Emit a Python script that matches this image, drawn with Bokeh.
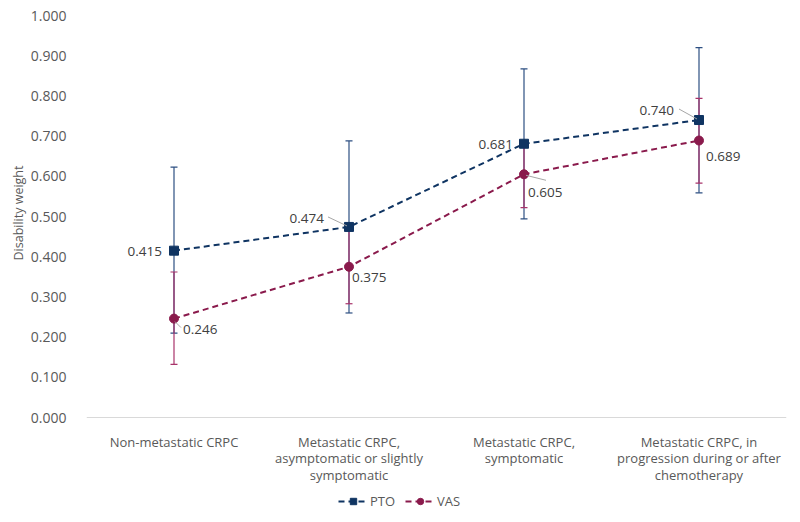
from bokeh.plotting import figure
from bokeh.models import (ColumnDataSource, FixedTicker, NumeralTickFormatter, Whisker,
                          Legend, LegendItem, TeeHead, Range1d, Title)
from bokeh.core.properties import value
from bokeh.embed import file_html
from bokeh.resources import INLINE

categories = ["Non-metastatic CRPC",
              "Metastatic CRPC,\nasymptomatic or slightly\nsymptomatic",
              "Metastatic CRPC,\nsymptomatic",
              "Metastatic CRPC, in\nprogression during or after\nchemotherapy"]
pto = [0.415, 0.474, 0.681, 0.740]
pto_lower = [0.210, 0.260, 0.494, 0.559]
pto_upper = [0.623, 0.688, 0.867, 0.920]
vas = [0.246, 0.375, 0.605, 0.689]
vas_lower = [0.132, 0.283, 0.522, 0.583]
vas_upper = [0.362, 0.468, 0.675, 0.794]
y_ticks = [0.0, 0.1, 0.2, 0.3, 0.4, 0.5, 0.6, 0.7, 0.8, 0.9, 1.0]

xs = list(range(1, len(categories) + 1))

PTO_C = "#0f3462"
VAS_C = "#8a1a4c"
FONT = "Open Sans"

# frame spans 15..514 px vertically; y=0 sits at 417 px (402 px per unit)
p = figure(width=790, height=514, output_backend="svg", toolbar_location=None,
           x_range=Range1d(0.5, 4.5), y_range=Range1d(-97 / 402, 1.0),
           min_border_left=86, min_border_right=4, min_border_top=15, min_border_bottom=0)
p.outline_line_color = None
p.xgrid.grid_line_color = None
p.ygrid.grid_line_color = None

# axes
p.xaxis.fixed_location = 0
p.xaxis.ticker = FixedTicker(ticks=xs)
p.xaxis.major_label_overrides = {x: c for x, c in zip(xs, categories)}
p.xaxis.axis_line_color = "#d9d9d9"
p.xaxis.major_tick_line_color = None
p.xaxis.minor_tick_line_color = None
p.xaxis.major_label_text_font = FONT
p.xaxis.major_label_text_font_size = "13px"
p.xaxis.major_label_text_line_height = 0.92
p.xaxis.major_label_text_color = "#595959"
p.xaxis.major_label_standoff = 9

p.yaxis.ticker = FixedTicker(ticks=y_ticks)
p.yaxis.formatter = NumeralTickFormatter(format="0.000")
p.yaxis.axis_line_color = None
p.yaxis.major_tick_line_color = None
p.yaxis.minor_tick_line_color = None
p.yaxis.major_label_text_font = FONT
p.yaxis.major_label_text_font_size = "14px"
p.yaxis.major_label_text_color = "#595959"
p.yaxis.major_label_standoff = 14

ylab = Title(text="Disability weight", align="left", offset=254, standoff=2,
             text_font=FONT, text_font_size="12.5px", text_font_style="normal",
             text_color="#595959")
p.add_layout(ylab, "left")

src_p = ColumnDataSource(dict(x=xs, y=pto, lo=pto_lower, hi=pto_upper))
src_v = ColumnDataSource(dict(x=xs, y=vas, lo=vas_lower, hi=vas_upper))

# error bars
for src, col in [(src_p, "#2d4f82"), (src_v, "#a8336a")]:
    w = Whisker(source=src, base="x", lower="lo", upper="hi",
                line_color=col, line_width=1.2,
                upper_head=TeeHead(size=7, line_color=col, line_width=1.2),
                lower_head=TeeHead(size=7, line_color=col, line_width=1.2))
    p.add_layout(w)

# lines and markers
lp = p.line("x", "y", source=src_p, line_color=PTO_C, line_width=2, line_dash="6 4")
lv = p.line("x", "y", source=src_v, line_color=VAS_C, line_width=2, line_dash="6 4")
mp = p.scatter("x", "y", source=src_p, marker="square", size=9, fill_color=PTO_C, line_color=PTO_C)
mv = p.scatter("x", "y", source=src_v, marker="circle", size=9, fill_color=VAS_C, line_color=VAS_C)

# leader lines (pixel offsets converted to data units; +y offset = screen down)
px_x = 1.0 / 175.0
px_y = 1.0 / 402.0
lead_x0, lead_y0, lead_x1, lead_y1 = [], [], [], []
leaders = [(0, "v", 1, 3, 7, 9), (1, "p", -2, -1, -21, -10),
           (2, "v", 2, 1, 22, 6), (3, "p", -2, -1, -20, -11)]
for i, s, ax0, ay0, ax1, ay1 in leaders:
    yv = pto[i] if s == "p" else vas[i]
    lead_x0.append(xs[i] + ax0 * px_x)
    lead_y0.append(yv - ay0 * px_y)
    lead_x1.append(xs[i] + ax1 * px_x)
    lead_y1.append(yv - ay1 * px_y)
p.segment(lead_x0, lead_y0, lead_x1, lead_y1, line_color="#a6a6a6", line_width=1)

# data labels
lab_x = xs + xs
lab_y = pto + vas
lab_t = ["%.3f" % v for v in pto] + ["%.3f" % v for v in vas]
lab_align = ["right", "right", "right", "right", "left", "left", "left", "left"]
lab_xo = [-12, -25, -11, -25, 9, 3, 4, 7]
lab_yo = [1, -8, 1, -10, 11, 11, 18, 16]
src_l = ColumnDataSource(dict(x=lab_x, y=lab_y, t=lab_t, a=lab_align, xo=lab_xo, yo=lab_yo))
p.text("x", "y", text="t", source=src_l, text_align="a", text_baseline="middle",
       x_offset="xo", y_offset="yo", text_font=value(FONT), text_font_size="13.5px",
       text_color="#404040")

legend = Legend(items=[LegendItem(label="PTO", renderers=[lp, mp]),
                       LegendItem(label="VAS", renderers=[lv, mv])],
                orientation="horizontal", location=(252, 3),
                label_text_font=FONT, label_text_font_size="13px", label_text_color="#595959",
                glyph_width=30, glyph_height=16, label_height=20, label_width=0,
                label_standoff=2, spacing=10,
                padding=2, margin=0, border_line_color=None, background_fill_alpha=0)
p.add_layout(legend)

open("out.html", "w").write(file_html(p, INLINE))
